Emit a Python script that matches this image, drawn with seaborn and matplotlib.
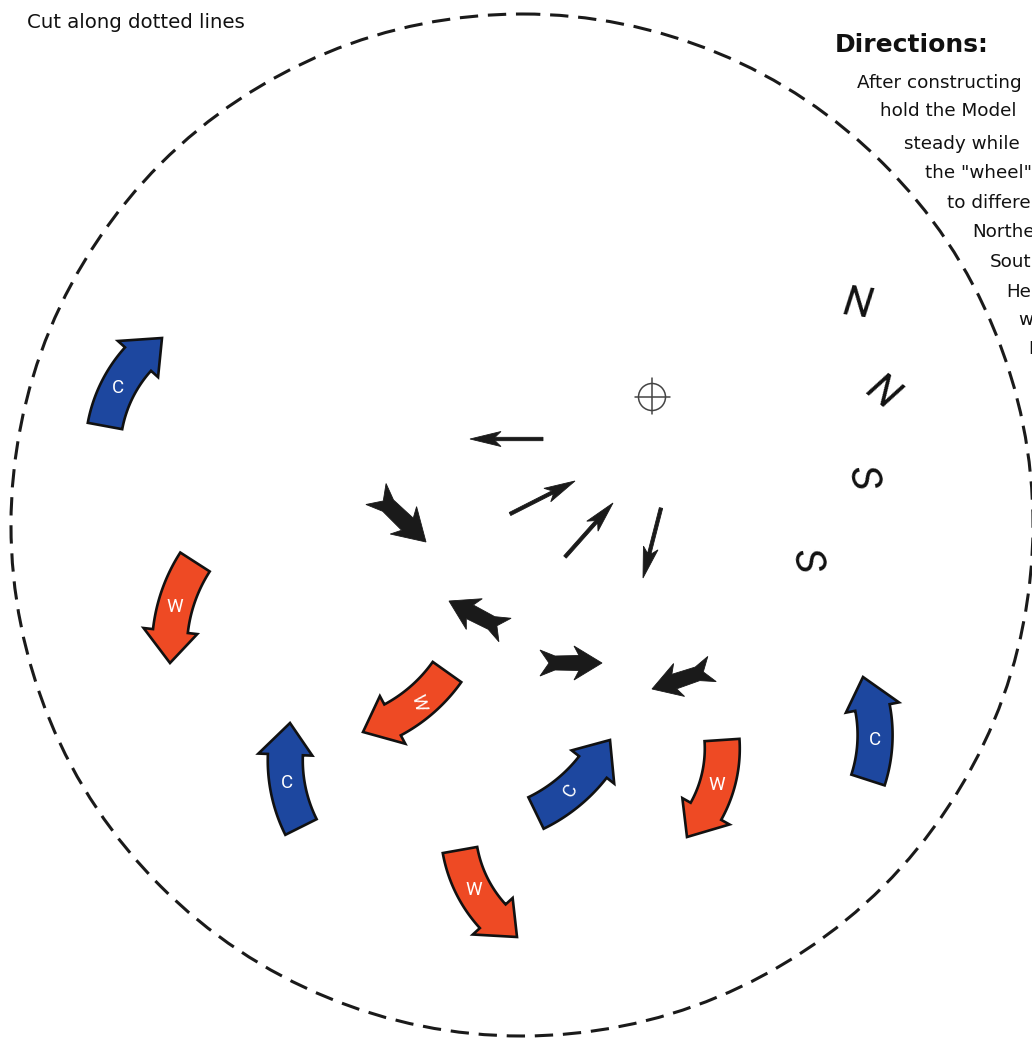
import numpy as np
import matplotlib
matplotlib.use("Agg")
import matplotlib.pyplot as plt
from matplotlib.patches import Polygon, Circle
import seaborn as sns

# curved block arrows (image pixels): tail centre, label point, tip
curve_labels = ['C', 'W', 'W', 'C', 'C', 'W', 'W', 'C']
curve_tail_x = [105, 195, 447, 301, 536, 722, 460, 868]
curve_tail_y = [426, 562, 672, 827, 813, 740, 850, 780]
curve_mid_x = [118, 175, 418, 287, 571, 717, 474, 875]
curve_mid_y = [388, 607, 703, 783, 790, 785, 890, 740]
curve_tip_x = [162, 170, 363, 290, 610, 687, 517, 863]
curve_tip_y = [338, 663, 732, 723, 740, 837, 937, 677]
curve_text_rot = [0, 0, -75, 0, 60, 0, 0, 0]

# straight black arrows
arrow_kind = ['thin', 'thin', 'thin', 'thin', 'thick', 'thick', 'thick', 'thick']
arrow_tail_x = [543, 510, 565, 661, 376, 505, 540, 712]
arrow_tail_y = [439, 514, 557, 508, 494, 630, 663, 669]
arrow_head_x = [470, 575, 613, 643, 426, 449, 602, 652]
arrow_head_y = [439, 481, 503, 578, 542, 601, 663, 689]

# N / S marks
compass_letters = ['N', 'N', 'S', 'S']
compass_x = [858, 882, 862, 806]
compass_y = [305, 393, 477, 560]
compass_rot = [-8, -38, -78, -78]

# directions text (clipped by the page edge)
direction_lines = ['After constructing', 'hold the Model', 'steady while',
                   'the "wheel"', 'to differe', 'Northe', 'Sout', 'He', 'w', 'N']
direction_x = [857, 880, 904, 925, 947, 972, 990, 1006, 1018, 1028]
direction_y = [83, 111, 144, 173, 203, 232, 262, 292, 320, 349]

BLUE = '#1d479f'
RED = '#ee4a24'

sns.set_theme(style='white')
plt.rcParams['font.family'] = ['DejaVu Sans']


def circle_from_points(p1, p2, p3):
    (x1, y1), (x2, y2), (x3, y3) = p1, p2, p3
    d = 2 * (x1 * (y2 - y3) + x2 * (y3 - y1) + x3 * (y1 - y2))
    ux = ((x1**2 + y1**2) * (y2 - y3) + (x2**2 + y2**2) * (y3 - y1) + (x3**2 + y3**2) * (y1 - y2)) / d
    uy = ((x1**2 + y1**2) * (x3 - x2) + (x2**2 + y2**2) * (x1 - x3) + (x3**2 + y3**2) * (x2 - x1)) / d
    return np.array([ux, uy]), np.hypot(x1 - ux, y1 - uy)


def curved_arrow(ax, tail, mid, tip, color, w=35, hw=54, hl=32):
    c, r = circle_from_points(tail, mid, tip)
    a0 = np.arctan2(tail[1] - c[1], tail[0] - c[0])
    a1 = np.arctan2(tip[1] - c[1], tip[0] - c[0])
    d = (a1 - a0 + np.pi) % (2 * np.pi) - np.pi
    a1 = a0 + d
    neck = a1 - np.sign(d) * hl / r
    th = np.linspace(a0, neck, 40)
    outer = np.c_[c[0] + (r + w / 2) * np.cos(th), c[1] + (r + w / 2) * np.sin(th)]
    inner = np.c_[c[0] + (r - w / 2) * np.cos(th), c[1] + (r - w / 2) * np.sin(th)][::-1]
    head = np.array([
        [c[0] + (r + hw / 2) * np.cos(neck), c[1] + (r + hw / 2) * np.sin(neck)],
        [c[0] + r * np.cos(a1), c[1] + r * np.sin(a1)],
        [c[0] + (r - hw / 2) * np.cos(neck), c[1] + (r - hw / 2) * np.sin(neck)],
    ])
    pts = np.vstack([outer, head, inner])
    ax.add_patch(Polygon(pts, closed=True, facecolor=color, edgecolor='#111111',
                         lw=1.9, joinstyle='miter', zorder=3))


def straight_arrow(ax, tail, head, kind):
    tail = np.asarray(tail, float)
    head = np.asarray(head, float)
    L = np.hypot(*(head - tail))
    u = (head - tail) / L
    n = np.array([-u[1], u[0]])
    if kind == 'thick':
        s = L / 62.0
        local = [(62, 0), (34, 17), (39, 7.5), (15, 7), (0, 13), (9, 0),
                 (0, -13), (15, -7), (39, -7.5), (34, -17)]
        local = [(a * s, b * s) for a, b in local]
    else:
        local = [(L, 0), (L - 31, 7.5), (L - 25, 1.7), (0, 1.7),
                 (0, -1.7), (L - 25, -1.7), (L - 31, -7.5)]
    pts = [tail + a * u + b * n for a, b in local]
    ax.add_patch(Polygon(pts, closed=True, facecolor='#1a1a1a', edgecolor='#1a1a1a',
                         lw=0.6, joinstyle='miter', zorder=3))


fig = plt.figure(figsize=(10.32, 10.41), dpi=100)
ax = fig.add_axes([0, 0, 1, 1])
ax.set_xlim(0, 1032)
ax.set_ylim(1041, 0)
ax.axis('off')

# cut line
ax.add_patch(Circle((522, 525), 511, fill=False, edgecolor='#1a1a1a',
                    lw=2.2, ls=(0, (6, 3.2)), zorder=2))

# centre mark
ax.add_patch(Circle((652, 397), 13.5, fill=False, edgecolor='#444444', lw=1.1, zorder=3))
ax.plot([635, 670], [397, 397], color='#444444', lw=1.1, zorder=3)
ax.plot([652, 652], [378, 414], color='#444444', lw=1.1, zorder=3)

for i, lab in enumerate(curve_labels):
    tail = (curve_tail_x[i], curve_tail_y[i])
    mid = (curve_mid_x[i], curve_mid_y[i])
    tip = (curve_tip_x[i], curve_tip_y[i])
    curved_arrow(ax, tail, mid, tip, BLUE if lab == 'C' else RED)
    ax.text(mid[0], mid[1], lab, color='white', fontsize=13.5, ha='center', va='center',
            family=['Roboto', 'DejaVu Sans'],
            rotation=curve_text_rot[i], zorder=4)

for k, tx, ty, hx, hy in zip(arrow_kind, arrow_tail_x, arrow_tail_y, arrow_head_x, arrow_head_y):
    straight_arrow(ax, (tx, ty), (hx, hy), k)

for lab, x, y, rot in zip(compass_letters, compass_x, compass_y, compass_rot):
    ax.text(x, y, lab, fontsize=30, style='italic',
            family=['Roboto', 'Liberation Sans', 'DejaVu Sans'],
            color='#111111', ha='center', va='center', rotation=rot,
            rotation_mode='anchor', zorder=4)

ax.text(27, 22, 'Cut along dotted lines', fontsize=14.2, color='#111111',
        ha='left', va='center')
ax.text(835, 45, 'Directions:', fontsize=18, fontweight='bold', color='#111111',
        ha='left', va='center')
for line, x, y in zip(direction_lines, direction_x, direction_y):
    ax.text(x, y, line, fontsize=13.2, color='#111111', ha='left', va='center')

fig.savefig('out.png', dpi=100)
